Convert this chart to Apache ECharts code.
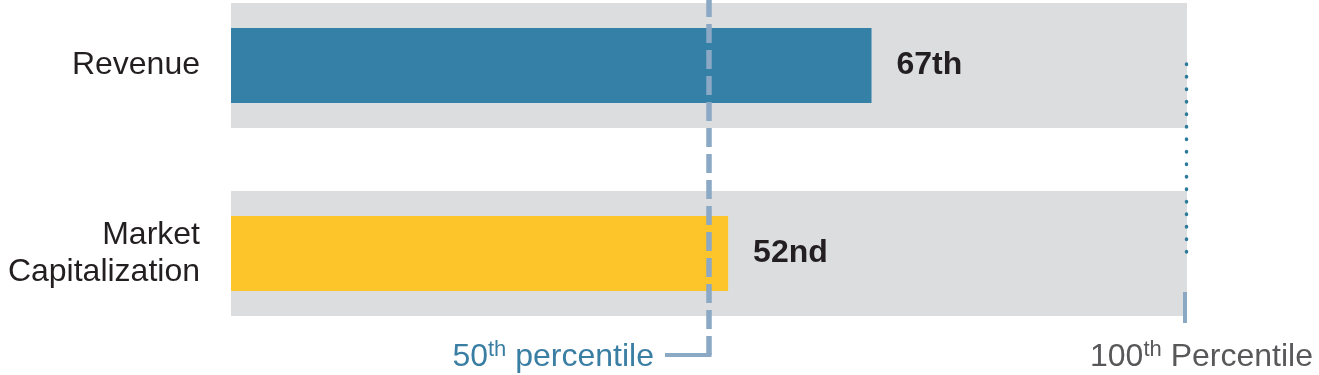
<!DOCTYPE html>
<html><head><meta charset="utf-8">
<script src="https://cdn.jsdelivr.net/npm/echarts@6/dist/echarts.min.js"></script>
<style>html,body{margin:0;padding:0;background:#fff}#c{width:1319px;height:375px}</style>
</head><body><div id="c"></div>
<script>
const categories = ['Revenue', 'Market\nCapitalization'];
const percentiles = [67, 52];
const valueLabels = ['67th', '52nd'];
const barColors = ['#3480a6', '#fec52a'];
const fullScale = [100, 100];
const medianMark = 50;
const maxMark = 100;

const chart = echarts.init(document.getElementById('c'), null, {renderer: 'canvas'});
const font = '"Liberation Sans", Arial, sans-serif';

chart.setOption({
  animation: false,
  grid: {left: 231, right: 132, top: 65.5, bottom: 121.5},
  xAxis: {type: 'value', min: 0, max: 100, show: false},
  yAxis: [
    {type: 'category', data: categories, inverse: true, boundaryGap: false,
     axisLine: {show: false}, axisTick: {show: false}, splitLine: {show: false},
     axisLabel: {margin: 31, fontSize: 32, lineHeight: 37, color: '#231f20', fontFamily: font, align: 'right',
       padding: [4, 0, 0, 0]}},
    {type: 'category', data: categories, inverse: true, boundaryGap: false, show: false}
  ],
  series: [
    {type: 'bar', yAxisIndex: 0, data: fullScale, barWidth: 125, silent: true,
     itemStyle: {color: '#dcdddf'}},
    {type: 'bar', yAxisIndex: 1, barWidth: 75, silent: true,
     data: percentiles.map((v, i) => ({value: v, itemStyle: {color: barColors[i]}})),
     label: {show: true, position: 'right', distance: 25, fontSize: 32, fontWeight: 'bold',
       color: '#231f20', fontFamily: font, padding: [4, 0, 0, 0],
       formatter: p => valueLabels[p.dataIndex]}}
  ]
});

const x50 = chart.convertToPixel({xAxisIndex: 0}, medianMark);
const x100 = chart.convertToPixel({xAxisIndex: 0}, maxMark);

chart.setOption({
  graphic: [
    {type: 'line', z: 100, shape: {x1: x50, y1: -2, x2: x50, y2: 355},
     style: {stroke: '#8ba8c5', lineWidth: 5.5, lineDash: [19, 7]}},
    {type: 'line', z: 100, shape: {x1: x50 - 44, y1: 355, x2: x50 + 2.5, y2: 355},
     style: {stroke: '#8ba8c5', lineWidth: 4}},
    {type: 'text', z: 100, x: x50 - 55, y: 356,
     style: {text: '{a|50}{s|th}{a| percentile}', align: 'right', verticalAlign: 'middle',
       rich: {a: {fontSize: 32, fontFamily: font, fill: '#3a7ea3', lineHeight: 34, verticalAlign: 'bottom'},
              s: {fontSize: 22, fontFamily: font, fill: '#3a7ea3', lineHeight: 34, verticalAlign: 'top'}}}},
    {type: 'line', z: 100, shape: {x1: x100 - 0.5, y1: 64, x2: x100 - 0.5, y2: 256},
     style: {stroke: '#2e7b9c', lineWidth: 3.5, lineDash: [0.5, 12], lineCap: 'round'}},
    {type: 'line', z: 100, shape: {x1: x100 - 2, y1: 292, x2: x100 - 2, y2: 323},
     style: {stroke: '#8ca9c4', lineWidth: 4}},
    {type: 'text', z: 100, x: x100 - 97, y: 356,
     style: {text: '{a|100}{s|th}{a| Percentile}', align: 'left', verticalAlign: 'middle',
       rich: {a: {fontSize: 32, fontFamily: font, fill: '#58585a', lineHeight: 34, verticalAlign: 'bottom'},
              s: {fontSize: 22, fontFamily: font, fill: '#58585a', lineHeight: 34, verticalAlign: 'top'}}}}
  ]
});
</script></body></html>
